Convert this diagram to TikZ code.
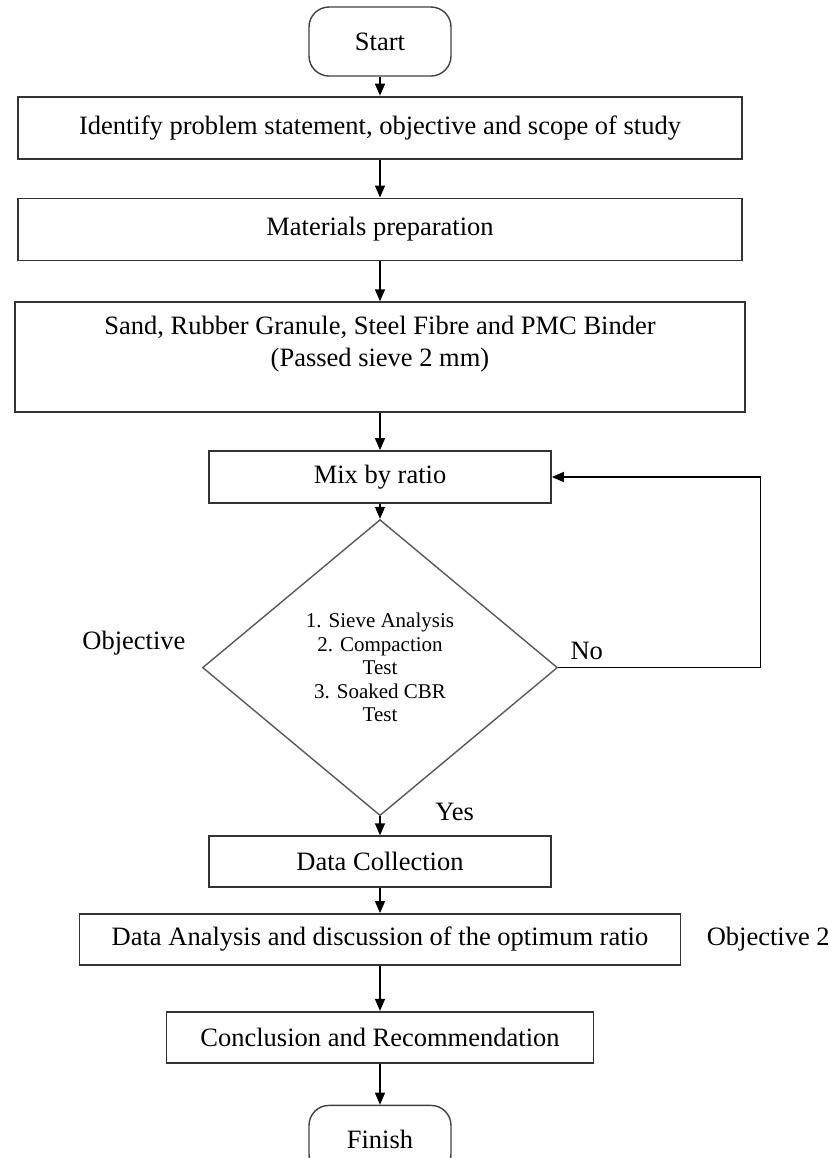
\documentclass[tikz,border=0pt]{standalone}
\usepackage{fontspec}
\setmainfont{Liberation Serif}
\usepackage{tikz}
\usetikzlibrary{positioning, arrows.meta, calc, shapes.geometric}
\tikzset{
    >={Triangle[width=5pt,length=6pt]},
    block/.style={draw=black!80, line width=0.9pt, rectangle, minimum height=25.5pt, inner sep=0pt, align=center},
    term/.style={draw=black!75, line width=0.7pt, rectangle, rounded corners=10pt, minimum width=71pt, minimum height=34.5pt},
    decide/.style={draw=black!65, line width=0.7pt, diamond, minimum width=177.5pt, minimum height=148pt, inner sep=0pt, align=center,
        font=\fontsize{10.5}{11.8}\selectfont},
    lbl/.style={inner sep=0pt},
    arr/.style={->, line width=0.7pt},
}

\begin{document}
\begin{tikzpicture}[font=\fontsize{13.25}{16}\selectfont]
        \useasboundingbox (0,0) rectangle (414.5pt,-579pt);
        \node[term] (start) at (190pt,-20.75pt) {Start};
        \node[block, minimum width=362pt, minimum height=31pt, below=9.5pt of start] (ident) {Identify problem statement, objective and scope of study};
        \node[block, minimum width=362pt, minimum height=31pt, below=19pt of ident] (prep) {Materials preparation};
        \node[block, minimum width=365pt, minimum height=55pt, below=20pt of prep] (mat) {Sand, Rubber Granule, Steel Fibre and PMC Binder\\(Passed sieve 2 mm)\\\mbox{}};
        \node[block, minimum width=171pt, minimum height=26pt, below=18.5pt of mat] (mix) {Mix by ratio};
        \node[decide, below=7.5pt of mix] (test) {1. Sieve Analysis\\2. Compaction\\Test\\3. Soaked CBR\\Test};
        \node[block, minimum width=171pt, below=9.5pt of test] (coll) {Data Collection};
        \node[block, minimum width=300.5pt, below=12.5pt of coll] (anal) {Data Analysis and discussion of the optimum ratio};
        \node[block, minimum width=213.5pt, below=22.5pt of anal] (concl) {Conclusion and Recommendation};
        \node[term, below=20.5pt of concl] (finish) {Finish};
        % side labels
        \node[lbl, anchor=east] (obj1) at ([shift={(-8pt,12pt)}]test.west) {Objective};
        \node[lbl, anchor=west] (no) at ([shift={(6pt,8.5pt)}]test.east) {No};
        \node[lbl, anchor=west] (yes) at ([shift={(27.5pt,2pt)}]test.south) {Yes};
        \node[lbl, anchor=west] (obj2) at ([xshift=12.5pt]anal.east) {Objective 2};
        \coordinate (loop) at ([xshift=101pt]test.east);
        % flow
        \draw[arr] (start) -- (ident);
        \draw[arr] (ident) -- (prep);
        \draw[arr] (prep) -- (mat);
        \draw[arr] (mat) -- (mix);
        \draw[arr] (mix) -- (test);
        \draw[arr] (test) -- (coll);
        \draw[arr] (coll) -- (anal);
        \draw[arr] (anal) -- (concl);
        \draw[arr] (concl) -- (finish);
        \draw[arr] (test.east) -- (loop) |- (mix.east);
    \end{tikzpicture}
\end{document}
